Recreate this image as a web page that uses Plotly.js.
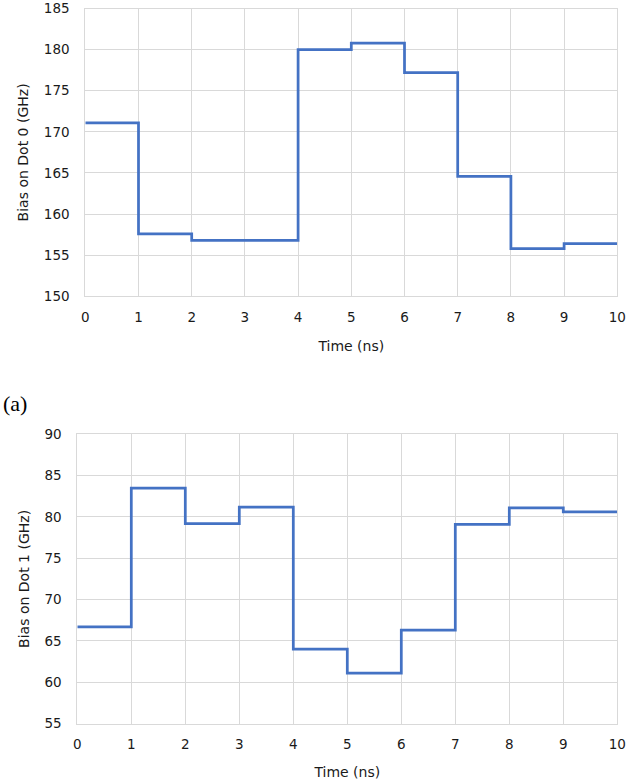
<!DOCTYPE html>
<html>
<head>
<meta charset="utf-8">
<script src="https://cdn.plot.ly/plotly-3.0.1.min.js"></script>
<style>html,body{margin:0;padding:0;background:#fff;}#chart{width:626px;height:780px;}</style>
</head>
<body>
<div id="chart"></div>
<script>
// Time steps (ns), one value per 1-ns interval
const timeSteps = [0, 1, 2, 3, 4, 5, 6, 7, 8, 9, 10];
const biasDot0 = [171.1, 157.6, 156.8, 156.8, 180.0, 180.8, 177.2, 164.6, 155.8, 156.4];
const biasDot1 = [66.7, 83.5, 79.2, 81.2, 64.0, 61.1, 66.3, 79.1, 81.1, 80.6];
const xTicks = [0, 1, 2, 3, 4, 5, 6, 7, 8, 9, 10];
const yTicksDot0 = [150, 155, 160, 165, 170, 175, 180, 185];
const yTicksDot1 = [55, 60, 65, 70, 75, 80, 85, 90];

// step series: hold last value until the end of the time window
const stepY = v => v.concat([v[v.length - 1]]);

const lineStyle = {color: '#4472C4', width: 2.75, shape: 'hv'};
const traces = [
  {x: timeSteps, y: stepY(biasDot0), type: 'scatter', mode: 'lines', line: lineStyle, xaxis: 'x', yaxis: 'y', hoverinfo: 'x+y'},
  {x: timeSteps, y: stepY(biasDot1), type: 'scatter', mode: 'lines', line: lineStyle, xaxis: 'x2', yaxis: 'y2', hoverinfo: 'x+y'}
];

const font = {family: 'DejaVu Sans, sans-serif', size: 13.5, color: '#1a1a1a'};
const titleFont = {family: 'DejaVu Sans, sans-serif', size: 14, color: '#1a1a1a'};
const grid = {
  showgrid: true, gridcolor: '#d9d9d9', gridwidth: 1,
  showline: true, linecolor: '#d9d9d9', linewidth: 1, mirror: true,
  zeroline: false, ticks: '', tickfont: font, automargin: false, fixedrange: true,
  ticklabeloverflow: 'allow'
};
const W = 626, H = 780;
const layout = {
  width: W, height: H,
  margin: {l: 0, r: 0, t: 0, b: 0},
  paper_bgcolor: '#fff', plot_bgcolor: '#fff',
  showlegend: false,
  font: font,
  xaxis: Object.assign({}, grid, {
    domain: [85.3 / W, 617.3 / W], range: [0, 10], tickvals: xTicks, anchor: 'y',
    ticklabelstandoff: 8,
    title: {text: 'Time (ns)', font: titleFont, standoff: 17}
  }),
  yaxis: Object.assign({}, grid, {
    domain: [(H - 296.3) / H, (H - 8.5) / H], range: [150, 185], tickvals: yTicksDot0, anchor: 'x',
    ticklabelstandoff: 12,
    title: {text: 'Bias on Dot 0 (GHz)', font: titleFont, standoff: 11}
  }),
  xaxis2: Object.assign({}, grid, {
    domain: [77.3 / W, 617.3 / W], range: [0, 10], tickvals: xTicks, anchor: 'y2',
    ticklabelstandoff: 8,
    title: {text: 'Time (ns)', font: titleFont, standoff: 17}
  }),
  yaxis2: Object.assign({}, grid, {
    domain: [(H - 723.5) / H, (H - 434.3) / H], range: [55, 90], tickvals: yTicksDot1, anchor: 'x2',
    ticklabelstandoff: 12,
    title: {text: 'Bias on Dot 1 (GHz)', font: titleFont, standoff: 11}
  }),
  annotations: [{
    text: '(a)', xref: 'paper', yref: 'paper', x: 1 / W, y: (H - 404) / H,
    xanchor: 'left', yanchor: 'middle', showarrow: false,
    font: {family: 'Liberation Serif, Times New Roman, serif', size: 22, color: '#000'}
  }]
};

Plotly.newPlot('chart', traces, layout, {displayModeBar: false, staticPlot: true});
</script>
</body>
</html>
